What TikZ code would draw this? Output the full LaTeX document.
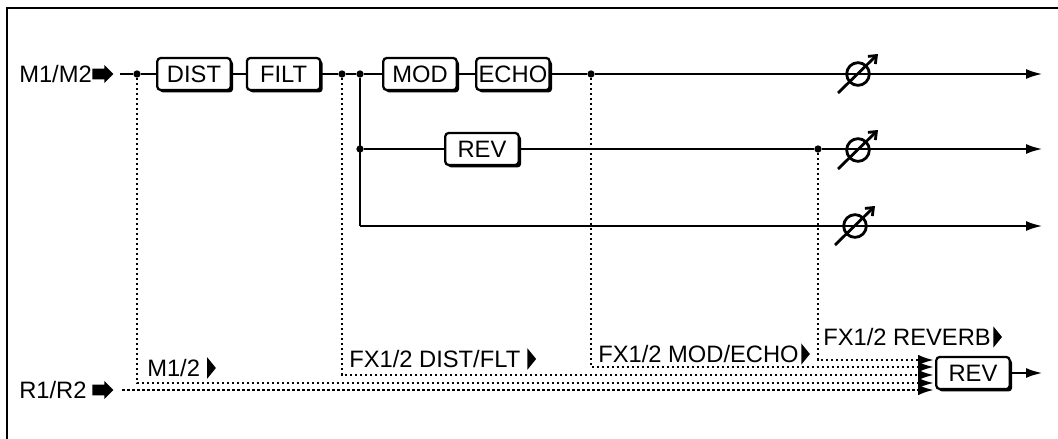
\documentclass[tikz,border=0pt]{standalone}
\usepackage{fontspec}
\setmainfont{Liberation Sans}
\usetikzlibrary{positioning, arrows.meta, shadows, shapes.geometric, shapes.arrows}

\begin{document}
\begin{tikzpicture}[
    x=0.75pt, y=-0.75pt,
    font=\fontsize{17.8pt}{19pt}\selectfont,
    fxblock/.style={
        rectangle, rounded corners=2.5pt,
        draw=black, line width=1.7pt,
        fill=white,
        minimum width=55pt, minimum height=24pt,
        inner sep=0pt,
        drop shadow={shadow xshift=1.8pt, shadow yshift=-1.8pt, opacity=1, fill=black}
    },
    signal/.style={line width=2.1pt},
    signalout/.style={signal, -{Latex[length=12.75pt, width=7.5pt]}},
    send/.style={line width=2pt, dash pattern=on 1.9pt off 1.85pt},
    sendin/.style={send, -{Latex[length=12pt, width=8pt]}},
    junction/.style={circle, fill=black, inner sep=0pt, minimum size=5.5pt},
    level/.style={circle, draw=black, line width=2.1pt, inner sep=0pt, minimum size=17pt},
    knob/.style={line width=2.1pt, -{Straight Barb[length=5pt, width=8pt]}},
    caption/.style={inner sep=0pt, anchor=west},
    inarrow/.style={single arrow, fill=black, inner xsep=0pt, inner ysep=3.75pt, minimum height=15.75pt, single arrow head extend=2.75pt, single arrow head indent=0pt},
    pointer/.style={isosceles triangle, isosceles triangle stretches, fill=black, inner sep=0pt, minimum width=16pt, minimum height=6.5pt},
]

% ---------- Frame ----------
\useasboundingbox (0,0) rectangle (1058,439);
\coordinate (framecorner) at (7,8);
\coordinate (frameright) at (1058,8);
\coordinate (framebottom) at (7,439);
\draw[line width=2.1pt] (frameright) -- (framecorner) -- (framebottom);

% ---------- Inputs ----------
\node[caption] (mlabel) at (19,74) {M1/M2};
\node[inarrow, anchor=west] (marrow) at (92,74) {};
\node[caption] (rlabel) at (19,390) {R1/R2};
\node[inarrow, anchor=west] (rarrow) at (92,390) {};
\coordinate (mstart) at (120,74);
\coordinate (rstart) at (122,390);

% ---------- Effect blocks ----------
\node[fxblock] (dist) at (194,74) {DIST};
\node[fxblock, right=10.5pt of dist] (filt) {FILT};
\node[fxblock] (mod) at (420,74) {MOD};
\node[fxblock, right=13pt of mod] (echo) {ECHO};
\node[fxblock] (rev) at (482,149) {REV};
\node[fxblock] (revout) at (973,373) {REV};

% ---------- Junctions ----------
\node[junction] (jm) at (137,74) {};
\node[junction] (jfilt) at (342,74) {};
\node[junction] (jsplit) at (360,74) {};
\node[junction] (jrev) at (360,149) {};
\node[junction] (jecho) at (591,74) {};
\node[junction] (jsend) at (818,149) {};
\coordinate (jdry) at (360,226);

% ---------- Outputs ----------
\coordinate (outa) at (1043,74);
\coordinate (outb) at (1043,149);
\coordinate (outc) at (1043,226);
\coordinate (outd) at (1043,373);

% ---------- Reverb inputs ----------
\coordinate (ina) at (934,360);
\coordinate (inb) at (934,367);
\coordinate (inc) at (934,375);
\coordinate (ind) at (934,383);
\coordinate (ine) at (934,390);

% ---------- Dry path ----------
\draw[signal] (mstart) -- (jm);
\draw[signal] (jm) -- (dist);
\draw[signal] (dist) -- (filt);
\draw[signal] (filt) -- (jfilt);
\draw[signal] (jfilt) -- (jsplit);
\draw[signal] (jsplit) -- (mod);
\draw[signal] (mod) -- (echo);
\draw[signal] (echo) -- (jecho);
\draw[signalout] (jecho) -- (outa);
\draw[signal] (jsplit) -- (jdry);
\draw[signal] (jrev) -- (rev);
\draw[signal] (rev) -- (jsend);
\draw[signalout] (jsend) -- (outb);
\draw[signalout] (jdry) -- (outc);
\draw[signalout] (revout) -- (outd);

% ---------- Levels ----------
\foreach \name/\px/\py in {la/858/74, lb/858/150, lc/855/226} {
    \node[level] (\name) at (\px,\py) {};
    \coordinate (\name a) at (\px-20,\py+19);
    \coordinate (\name b) at (\px+20,\py-20);
    \draw[knob] (\name a) -- (\name b);
}

% ---------- Send buses ----------
\draw[sendin] (jsend) |- (ina);
\draw[sendin] (jecho) |- (inb);
\draw[sendin] (jfilt) |- (inc);
\draw[sendin] (jm) |- (ind);
\draw[sendin] (rstart) -- (ine);

% ---------- Bus labels ----------
\node[caption] (lbm) at (147,368) {M1/2};
\node[pointer, right=5pt of lbm] (pm) {};
\node[caption] (lbd) at (349,359) {FX1/2 DIST/FLT};
\node[pointer, right=5pt of lbd] (pd) {};
\node[caption] (lbe) at (598,354) {FX1/2 MOD/ECHO};
\node[pointer, right=1.5pt of lbe] (pe) {};
\node[caption] (lbr) at (823,337) {FX1/2 REVERB};
\node[pointer, right=1.5pt of lbr] (pr) {};

\end{tikzpicture}
\end{document}
